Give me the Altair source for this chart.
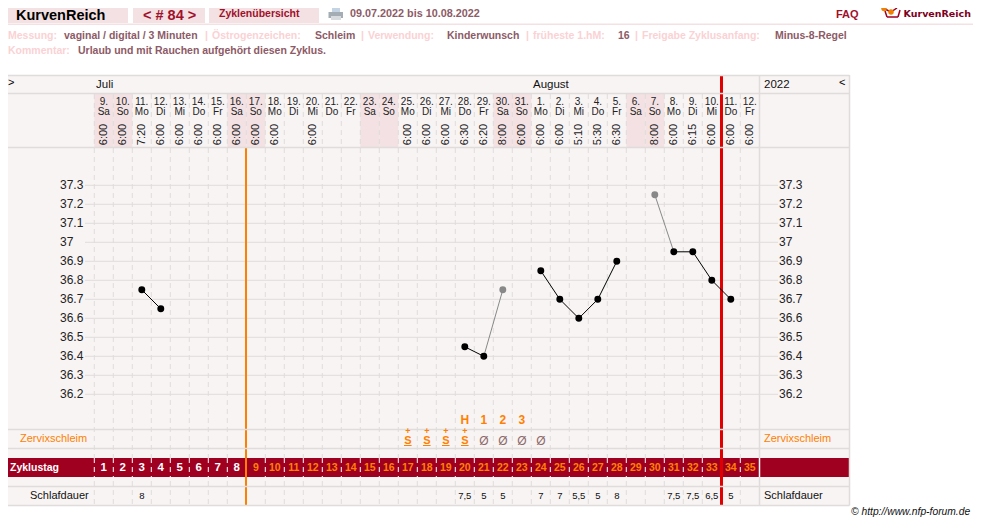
import altair as alt
import pandas as pd

W, H = 965, 509
OX, OY = 8, 8
COL0, COLW = 94.3, 19.0
DAY_DATES = ["9.","10.","11.","12.","13.","14.","15.","16.","17.","18.","19.","20.","21.","22.","23.","24.","25.","26.","27.","28.","29.","30.","31.","1.","2.","3.","4.","5.","6.","7.","8.","9.","10.","11.","12."]
WEEKDAYS = ["Sa","So","Mo","Di","Mi","Do","Fr"]*5
TIMES = ["6:00","6:00","7:20","6:00","6:00","6:00","6:00","6:00","6:00","6:00","","6:00","","","","","6:00","6:00","6:00","6:30","6:20","8:00","6:00","6:00","6:00","5:10","5:30","6:30","","8:00","6:00","6:15","6:00","6:00","6:00"]
SLEEP = {3:"8",20:"7,5",21:"5",22:"5",24:"7",25:"7",26:"5,5",27:"5",28:"8",31:"7,5",32:"7,5",33:"6,5",34:"5"}
WEEKEND = [1,2,8,9,15,16,22,23,29,30]
TEMP_GRID = [37.3,37.2,37.1,37.0,36.9,36.8,36.7,36.6,36.5,36.4,36.3,36.2]
TEMP_LABEL = ["37.3","37.2","37.1","37","36.9","36.8","36.7","36.6","36.5","36.4","36.3","36.2"]
TEMPS = {3:36.75,4:36.65,20:36.45,21:36.40,22:36.75,24:36.85,25:36.70,26:36.60,27:36.70,28:36.90,30:37.25,31:36.95,32:36.95,33:36.80,34:36.70}
GREY_POINTS = [22,30]
BLACK_SEGS = [[3,4],[20,21],[24,25,26,27,28],[31,32,33,34]]
GREY_SEGS = [[21,22],[30,31]]
S_DAYS = [17,18,19,20]
NULL_DAYS = [21,22,23,24]
PEAK = {20:"H",21:"1",22:"2",23:"3"}

ROSE = "#f3e1e3"; BG = "#f8f4f4"; LINE = "#dfdcdb"; BAND = "#a00020"
ORANGE = "#ff8000"; RED = "#e00000"; DARK = "#a0102a"; MUTED = "#8d5a66"; PALE = "#fad2d4"
SANS = "Liberation Sans"

x_scale = alt.Scale(domain=[(OX-COL0)/COLW, (OX+W-COL0)/COLW], nice=False, zero=False)
y_scale = alt.Scale(domain=[36.2-(OY+H-394.3)/190, 37.3+(185.3-OY)/190], nice=False, zero=False)
X = lambda f: alt.X(f, type="quantitative", scale=x_scale, axis=None)
Y = lambda f: alt.Y(f, type="quantitative", scale=y_scale, axis=None)
ONE = alt.Data(values=[{"a":1}])
layers = []

def rect(x0,x1,y0,y1,c):
    layers.append(alt.Chart(ONE).mark_rect(color=c).encode(x=alt.value(x0-OX),x2=alt.value(x1-OX),y=alt.value(y0-OY),y2=alt.value(y1-OY)))
def seg(x0,x1,y0,y1,c,w=1):
    layers.append(alt.Chart(ONE).mark_rule(color=c,strokeWidth=w).encode(x=alt.value(x0-OX),x2=alt.value(x1-OX),y=alt.value(y0-OY),y2=alt.value(y1-OY)))
def txt(t,x,y,size=11,c="#000",weight="normal",align="left",font=SANS,style="normal"):
    layers.append(alt.Chart(alt.Data(values=[{"t":t}])).mark_text(align=align,baseline="middle",font=font,fontSize=size,color=c,fontWeight=weight,fontStyle=style).encode(x=alt.value(x-OX),y=alt.value(y-OY),text="t:N"))
def dot(x,y,c,size):
    layers.append(alt.Chart(ONE).mark_circle(color=c,size=size,opacity=1).encode(x=alt.value(x-OX),y=alt.value(y-OY)))

# page header
rect(0,128,0,23,ROSE); rect(133,205,0,23,ROSE); rect(209,319,0,23,ROSE); rect(0,981,23.5,25,ROSE)
txt("KurvenReich",16,15.5,14.5,"#000","bold")
txt("< # 84 >",143,15.5,14.5,DARK,"bold")
txt("Zyklenübersicht",219,14,10.5,DARK,"bold")
rect(332,340,8,12,"#c4d4e4"); rect(328.5,343,12,18,"#a4acb4"); rect(331,341,16,20,"#d8dcdf")
txt("09.07.2022 bis 10.08.2022",350,14,10.8,MUTED,"bold")
txt("FAQ",836,14.5,11,DARK,"bold")
seg(885,887,11,17,BAND,1.5); seg(887,898,17,17,BAND,1.5); seg(898,900,17,10,BAND,1.5)
seg(883,891,8,12,BAND,1.5); seg(891,897,12,8,BAND,1.5)
dot(891,12,"#f08000",30); dot(884,8.5,"#f08000",30)
txt("KurvenReich",903.5,13.5,9.5,"#7d0020","bold",font="DejaVu Sans")

# settings rows
for t,x,c in [("Messung:",8,PALE),("vaginal / digital / 3 Minuten",64,MUTED),("|",205,PALE),("Östrogenzeichen:",212,PALE),
              ("Schleim",315,MUTED),("|",361,PALE),("Verwendung:",368,PALE),("Kinderwunsch",447,MUTED),("|",526,PALE),
              ("früheste 1.hM:",533,PALE),("16",618,MUTED),("|",635,PALE),("Freigabe Zyklusanfang:",642,PALE),("Minus-8-Regel",775,MUTED)]:
    txt(t,x,36,10.5,c,"bold")
txt("Kommentar:",8,51,10.5,PALE,"bold")
txt("Urlaub und mit Rauchen aufgehört diesen Zyklus.",78,51,10.5,MUTED,"bold")

# table background
rect(0,849.5,75,505.5,BG)

days = pd.DataFrame({
    "col":list(range(1,36)),
    "center":[c-0.5 for c in range(1,36)],
    "left":[c-1 for c in range(1,36)],
    "right":list(range(1,36)),
    "date":DAY_DATES,"wd":WEEKDAYS,"time":TIMES,
})
layers.append(alt.Chart(days[days.col.isin(WEEKEND)]).mark_rect(color=ROSE).encode(x=X("left"),x2="right",y=alt.value(94-OY),y2=alt.value(147-OY)))
edges = pd.DataFrame({"e":list(range(0,35))})
layers.append(alt.Chart(edges).mark_rule(color=LINE,strokeDash=[5,4]).encode(x=X("e"),y=alt.value(94-OY),y2=alt.value(505-OY)))

# horizontal temperature grid
grid = pd.DataFrame({"t":TEMP_GRID,"label":TEMP_LABEL})
layers.append(alt.Chart(grid).mark_rule(color=LINE,strokeWidth=1).encode(y=Y("t"),x=alt.value(85-OX),x2=alt.value(778-OX)))
layers.append(alt.Chart(grid).mark_text(align="left",baseline="middle",font=SANS,fontSize=12,color="#222").encode(y=Y("t"),x=alt.value(60-OX),text="label:N"))
layers.append(alt.Chart(grid).mark_text(align="left",baseline="middle",font=SANS,fontSize=12,color="#222").encode(y=Y("t"),x=alt.value(779-OX),text="label:N"))

# cycle band
rect(0,849.5,458,477,BAND)
layers.append(alt.Chart(edges).mark_rule(color="#ffffff",strokeDash=[5,4]).encode(x=X("e"),y=alt.value(458-OY),y2=alt.value(477-OY)))

# cycle markers
seg(246,246,148,505.5,ORANGE,2)
seg(721.5,721.5,75,505.5,RED,3)

# solid table lines
for yy in [75.5,93.5,147.5,429.5,448.5,486.5,505.5]:
    seg(0,849.5,yy,yy,LINE,1.5)
seg(759.5,759.5,75,458,LINE,1.5); seg(759.5,759.5,477,505.5,LINE,1.5); seg(759.5,759.5,458,477,"#ffffff",1.5)
seg(849.5,849.5,75,505.5,LINE,1.5)

# table texts
txt(">",8,83,11,"#000"); txt("<",839,82.5,11,"#000")
txt("Juli",96,85,11.5,"#111"); txt("August",533,85,11.5,"#111"); txt("2022",764,85,11.5,"#111")
layers.append(alt.Chart(days).mark_text(font=SANS,fontSize=10,color="#222",baseline="middle").encode(x=X("center"),y=alt.value(101.5-OY),text="date:N"))
layers.append(alt.Chart(days).mark_text(font=SANS,fontSize=10,color="#222",baseline="middle").encode(x=X("center"),y=alt.value(112-OY),text="wd:N"))
layers.append(alt.Chart(days).mark_text(font=SANS,fontSize=11,color="#222",baseline="middle",align="center",angle=270).encode(x=X("center"),y=alt.value(134.5-OY),text="time:N"))

# temperature curve
seg_rows = []
for i,s in enumerate(BLACK_SEGS):
    seg_rows += [{"col":c,"c":c-0.5,"t":TEMPS[c],"g":f"b{i}"} for c in s]
layers.append(alt.Chart(pd.DataFrame(seg_rows)).mark_line(color="#000",strokeWidth=1).encode(x=X("c"),y=Y("t"),detail="g:N"))
seg_rows = []
for i,s in enumerate(GREY_SEGS):
    seg_rows += [{"col":c,"c":c-0.5,"t":TEMPS[c],"g":f"g{i}"} for c in s]
layers.append(alt.Chart(pd.DataFrame(seg_rows)).mark_line(color="#888888",strokeWidth=1).encode(x=X("c"),y=Y("t"),detail="g:N"))
pts = pd.DataFrame([{"c":c-0.5,"t":v,"grey":c in GREY_POINTS} for c,v in TEMPS.items()])
layers.append(alt.Chart(pts[~pts.grey]).mark_circle(color="#000",size=48,opacity=1).encode(x=X("c"),y=Y("t")))
layers.append(alt.Chart(pts[pts.grey]).mark_circle(color="#888888",size=48,opacity=1).encode(x=X("c"),y=Y("t")))

# symptom rows
peak = pd.DataFrame({"c":[k-0.5 for k in PEAK],"v":list(PEAK.values())})
layers.append(alt.Chart(peak).mark_text(font=SANS,fontSize=12,fontWeight="bold",color=ORANGE,baseline="middle").encode(x=X("c"),y=alt.value(420-OY),text="v:N"))
sd = pd.DataFrame({"c":[d-0.5 for d in S_DAYS],"l":[d-0.7 for d in S_DAYS],"r":[d-0.3 for d in S_DAYS],"s":["S"]*4,"p":["+"]*4})
layers.append(alt.Chart(sd).mark_text(font=SANS,fontSize=11,color=ORANGE,baseline="middle",fontWeight="bold").encode(x=X("c"),y=alt.value(440.5-OY),text="s:N"))
layers.append(alt.Chart(sd).mark_text(font=SANS,fontSize=9,color=ORANGE,baseline="middle",fontWeight="bold").encode(x=X("c"),y=alt.value(430.5-OY),text="p:N"))
layers.append(alt.Chart(sd).mark_rule(color=ORANGE,strokeWidth=1).encode(x=X("l"),x2="r",y=alt.value(445.5-OY)))
nd = pd.DataFrame({"c":[d-0.5 for d in NULL_DAYS],"s":["Ø"]*4})
layers.append(alt.Chart(nd).mark_text(font=SANS,fontSize=12,color="#8d6a6a",baseline="middle").encode(x=X("c"),y=alt.value(441-OY),text="s:N"))
txt("Zervixschleim",20,439,11,ORANGE); txt("Zervixschleim",764,439,11,ORANGE)

txt("Zyklustag",10,468,10.5,"#ffffff","bold")
num = days.assign(n=days.col.astype(str))
layers.append(alt.Chart(num[num.col<=8]).mark_text(font=SANS,fontSize=11.5,fontWeight="bold",color="#ffffff",baseline="middle").encode(x=X("center"),y=alt.value(467.5-OY),text="n:N"))
layers.append(alt.Chart(num[num.col>8]).mark_text(font=SANS,fontSize=10.5,fontWeight="bold",color=ORANGE,baseline="middle").encode(x=X("center"),y=alt.value(467.5-OY),text="n:N"))

txt("Schlafdauer",30,496,11,"#111"); txt("Schlafdauer",764,496,11,"#111")
sl = pd.DataFrame({"c":[k-0.5 for k in SLEEP],"v":list(SLEEP.values())})
layers.append(alt.Chart(sl).mark_text(font=SANS,fontSize=9.5,color="#111",baseline="middle").encode(x=X("c"),y=alt.value(496-OY),text="v:N"))

txt("© http://www.nfp-forum.de",851,511.5,10.3,"#111",font=SANS,style="italic")

chart = alt.layer(*layers).properties(width=W,height=H,background="#ffffff",padding=0,autosize=alt.AutoSizeParams(type="none")).configure_view(stroke=None)
chart.save("out.html", embed_options={"renderer": "svg", "actions": False})
